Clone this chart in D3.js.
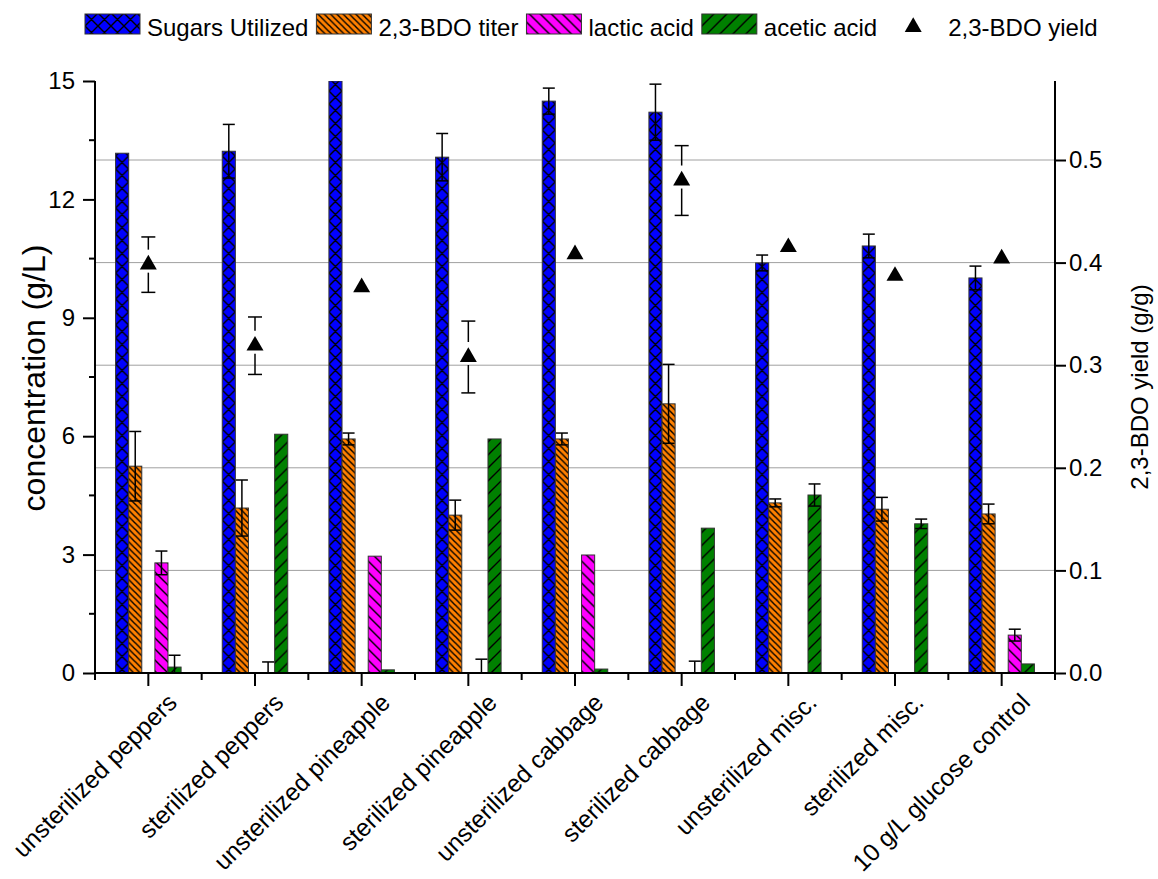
<!DOCTYPE html>
<html>
<head>
<meta charset="utf-8">
<script src="https://cdn.jsdelivr.net/npm/d3@7"></script>
<style>
  body { margin: 0; background: #fff; }
  text { font-family: Arial, "Liberation Sans", sans-serif; fill: #000; }
</style>
</head>
<body>
<div id="chart"></div>
<script>
// Sugars, products and yield per fermentation condition

const categories = ["unsterilized peppers", "sterilized peppers", "unsterilized pineapple",
  "sterilized pineapple", "unsterilized cabbage", "sterilized cabbage",
  "unsterilized misc.", "sterilized misc.", "10 g/L glucose control"];

const sugars    = [13.17, 13.22, 15.0, 13.07, 14.49, 14.21, 10.39, 10.82, 10.01];
const sugarsErr = [0, 0.68, 0, 0.6, 0.33, 0.71, 0.2, 0.3, 0.3];
const titer     = [5.24, 4.18, 5.93, 4.0, 5.93, 6.82, 4.31, 4.15, 4.03];
const titerErr  = [0.88, 0.71, 0.15, 0.38, 0.15, 1.0, 0.1, 0.3, 0.25];
const lactic    = [2.79, 0, 2.96, 0, 2.99, 0, 0, 0, 0.96];
const lacticErr = [0.3, 0.28, 0, 0.35, 0, 0.3, 0, 0, 0.15];
const acetic    = [0.15, 6.05, 0.08, 5.93, 0.1, 3.67, 4.51, 3.78, 0.23];
const aceticErr = [0.3, 0, 0, 0, 0, 0, 0.28, 0.12, 0];
const yieldVals = [0.398, 0.319, 0.376, 0.308, 0.408, 0.48, 0.415, 0.387, 0.404];
const yieldErr  = [0.027, 0.028, 0, 0.035, 0, 0.034, 0, 0, 0];

const leftTicks = [0, 3, 6, 9, 12, 15];
const rightTicks = [0, 0.1, 0.2, 0.3, 0.4, 0.5];

const width = 1158, height = 879,
    margin = ({ top: 81, right: 103, bottom: 206, left: 95 });

const series = [
  { key: "sugars", label: "Sugars Utilized", values: sugars, err: sugarsErr, pat: "pat-cross" },
  { key: "titer", label: "2,3-BDO titer", values: titer, err: titerErr, pat: "pat-dense" },
  { key: "lactic", label: "lactic acid", values: lactic, err: lacticErr, pat: "pat-back" },
  { key: "acetic", label: "acetic acid", values: acetic, err: aceticErr, pat: "pat-fwd" }
];

const svg = d3.select("#chart")
  .append("svg")
  .attr("width", width)
  .attr("height", height);

// hatch patterns
const defs = svg.append("defs");
function hatch(id, color, w, h, d) {
  const p = defs.append("pattern")
    .attr("id", id)
    .attr("patternUnits", "userSpaceOnUse")
    .attr("width", w).attr("height", h);
  p.append("rect").attr("width", w).attr("height", h).attr("fill", color);
  p.append("path").attr("d", d)
    .attr("stroke", "#000").attr("stroke-width", 1.4).attr("fill", "none");
}
hatch("pat-cross", "#0000ff", 13, 13, "M0,0L13,13M0,13L13,0M-1,1L1,-1M12,14L14,12M-1,12L1,14M12,-1L14,1");
hatch("pat-dense", "#ff8000", 6.3, 6.3, "M0,0L6.3,6.3M-1,5.3L1,7.3M5.3,-1L7.3,1");
hatch("pat-back", "#ff00ff", 11, 11, "M0,0L11,11M-1,10L1,12M10,-1L12,1");
hatch("pat-fwd", "#008000", 13, 13, "M0,13L13,0M-1,1L1,-1M12,14L14,12");

const x0 = d3.scaleBand()
  .domain(categories)
  .range([margin.left, width - margin.right]);

const x1 = d3.scaleBand() // 5 slots, the middle one holds the yield symbol
  .domain(["sugars", "titer", "yield", "lactic", "acetic"])
  .range([-32.75, 32.75]);

const y = d3.scaleLinear()
  .domain([0, 15])
  .range([height - margin.bottom, margin.top]);

const y2 = d3.scaleLinear()
  .domain([0, 0.577])
  .range([height - margin.bottom, margin.top]);

const cx = d => x0(d) + x0.bandwidth() / 2;

svg.append("clipPath").attr("id", "plot-clip")
  .append("rect")
  .attr("x", margin.left).attr("y", margin.top)
  .attr("width", width - margin.left - margin.right)
  .attr("height", height - margin.top - margin.bottom);

// gridlines follow the right axis
svg.append("g")
  .selectAll("line")
  .data(rightTicks.slice(1))
  .join("line")
  .attr("x1", margin.left).attr("x2", width - margin.right)
  .attr("y1", d => y2(d)).attr("y2", d => y2(d))
  .attr("stroke", "#a0a0a0").attr("stroke-width", 1);

const plot = svg.append("g").attr("clip-path", "url(#plot-clip)");

// bars
series.forEach(s => {
  categories.forEach((c, i) => {
    const v = s.values[i];
    if (v <= 0) return;
    const bx = cx(c) + x1(s.key);
    plot.append("g")
      .attr("transform", `translate(${bx},0)`)
      .append("rect")
      .attr("x", 0)
      .attr("y", y(v))
      .attr("width", x1.bandwidth())
      .attr("height", y(0) - y(v))
      .attr("fill", `url(#${s.pat})`)
      .attr("stroke", "#333")
      .attr("stroke-width", 1);
  });
});

// bar error bars
series.forEach(s => {
  categories.forEach((c, i) => {
    const e = s.err[i];
    if (!e) return;
    const v = s.values[i];
    const bx = cx(c) + x1(s.key) + x1.bandwidth() / 2;
    const g = plot.append("g").attr("stroke", "#000").attr("stroke-width", 1.5);
    g.append("line").attr("x1", bx).attr("x2", bx).attr("y1", y(v + e)).attr("y2", y(v - e));
    g.append("line").attr("x1", bx - 6).attr("x2", bx + 6).attr("y1", y(v + e)).attr("y2", y(v + e));
    g.append("line").attr("x1", bx - 6).attr("x2", bx + 6).attr("y1", y(v - e)).attr("y2", y(v - e));
  });
});

// yield points
const tri = d3.symbol().type(d3.symbolTriangle).size(125);
categories.forEach((c, i) => {
  const px = cx(c) + x1("yield") + x1.bandwidth() / 2;
  const py = y2(yieldVals[i]);
  const e = yieldErr[i];
  if (e) {
    const g = svg.append("g").attr("stroke", "#000").attr("stroke-width", 1.5);
    g.append("line").attr("x1", px).attr("x2", px).attr("y1", y2(yieldVals[i] + e)).attr("y2", py - 15);
    g.append("line").attr("x1", px).attr("x2", px).attr("y1", py + 8).attr("y2", y2(yieldVals[i] - e));
    g.append("line").attr("x1", px - 7).attr("x2", px + 7).attr("y1", y2(yieldVals[i] + e)).attr("y2", y2(yieldVals[i] + e));
    g.append("line").attr("x1", px - 7).attr("x2", px + 7).attr("y1", y2(yieldVals[i] - e)).attr("y2", y2(yieldVals[i] - e));
  }
  svg.append("path")
    .attr("d", tri)
    .attr("transform", `translate(${px},${py})`)
    .attr("fill", "#000");
});

// left axis
const yAxis = svg.append("g")
  .attr("transform", `translate(${margin.left},0)`)
  .call(d3.axisLeft(y).tickValues(leftTicks).tickFormat(d3.format("d")).tickSize(12).tickPadding(8));
yAxis.append("g").selectAll("line")
  .data(d3.range(1.5, 15, 3))
  .join("line")
  .attr("x1", -6).attr("x2", 0)
  .attr("y1", d => y(d)).attr("y2", d => y(d))
  .attr("stroke", "#000").attr("stroke-width", 2);

// right axis
const y2Axis = svg.append("g")
  .attr("transform", `translate(${width - margin.right},0)`)
  .call(d3.axisRight(y2).tickValues(rightTicks).tickFormat(d3.format(".1f")).tickSize(11).tickPadding(3));

// bottom axis: long ticks at centres, short ticks at group edges
const xAxis = svg.append("g")
  .attr("transform", `translate(0,${height - margin.bottom})`);
xAxis.append("line")
  .attr("x1", margin.left).attr("x2", width - margin.right)
  .attr("stroke", "#000").attr("stroke-width", 2);
xAxis.selectAll(".major")
  .data(categories)
  .join("line")
  .attr("x1", d => cx(d)).attr("x2", d => cx(d))
  .attr("y1", 0).attr("y2", 13)
  .attr("stroke", "#000").attr("stroke-width", 2);
xAxis.selectAll(".minor")
  .data(d3.range(categories.length + 1))
  .join("line")
  .attr("x1", i => margin.left + i * x0.bandwidth()).attr("x2", i => margin.left + i * x0.bandwidth())
  .attr("y1", 0).attr("y2", 7)
  .attr("stroke", "#000").attr("stroke-width", 2);
xAxis.selectAll("text")
  .data(categories)
  .join("text")
  .attr("transform", d => `translate(${cx(d) + 30},${31}) rotate(-45)`)
  .attr("text-anchor", "end")
  .style("font-size", "24.5px")
  .text(d => d);

[yAxis, y2Axis].forEach(a => {
  a.select(".domain").attr("stroke", "#000").attr("stroke-width", 2)
    .attr("d", `M0,${margin.top}V${height - margin.bottom}`);
  a.selectAll(".tick line").attr("stroke", "#000").attr("stroke-width", 2);
  a.selectAll(".tick text").style("font-size", "24px").attr("fill", "#000").style("font-family", "Arial, 'Liberation Sans', sans-serif");
});

// axis titles
svg.append("text")
  .attr("transform", `translate(45,${378}) rotate(-90)`)
  .attr("text-anchor", "middle")
  .style("font-size", "32px")
  .text("concentration (g/L)");

svg.append("text")
  .attr("transform", `translate(1148,${387}) rotate(-90)`)
  .attr("text-anchor", "middle")
  .style("font-size", "24px")
  .text("2,3-BDO yield (g/g)");

// legend
const legend = svg.append("g");
let lx = 85;
series.forEach(s => {
  legend.append("g")
    .attr("transform", `translate(${lx},0)`)
    .append("rect")
    .attr("x", 0).attr("y", 14)
    .attr("width", 55).attr("height", 20)
    .attr("fill", `url(#${s.pat})`)
    .attr("stroke", "#333").attr("stroke-width", 1);
  const t = legend.append("text")
    .attr("x", lx + 62).attr("y", 36)
    .style("font-size", "24px")
    .text(s.label);
  lx += 62 + t.node().getComputedTextLength() + 8;
});
legend.append("path")
  .attr("d", tri)
  .attr("transform", `translate(${lx + 28},27)`)
  .attr("fill", "#000");
legend.append("text")
  .attr("x", lx + 63).attr("y", 36)
  .style("font-size", "24px")
  .text("2,3-BDO yield");
</script>
</body>
</html>
